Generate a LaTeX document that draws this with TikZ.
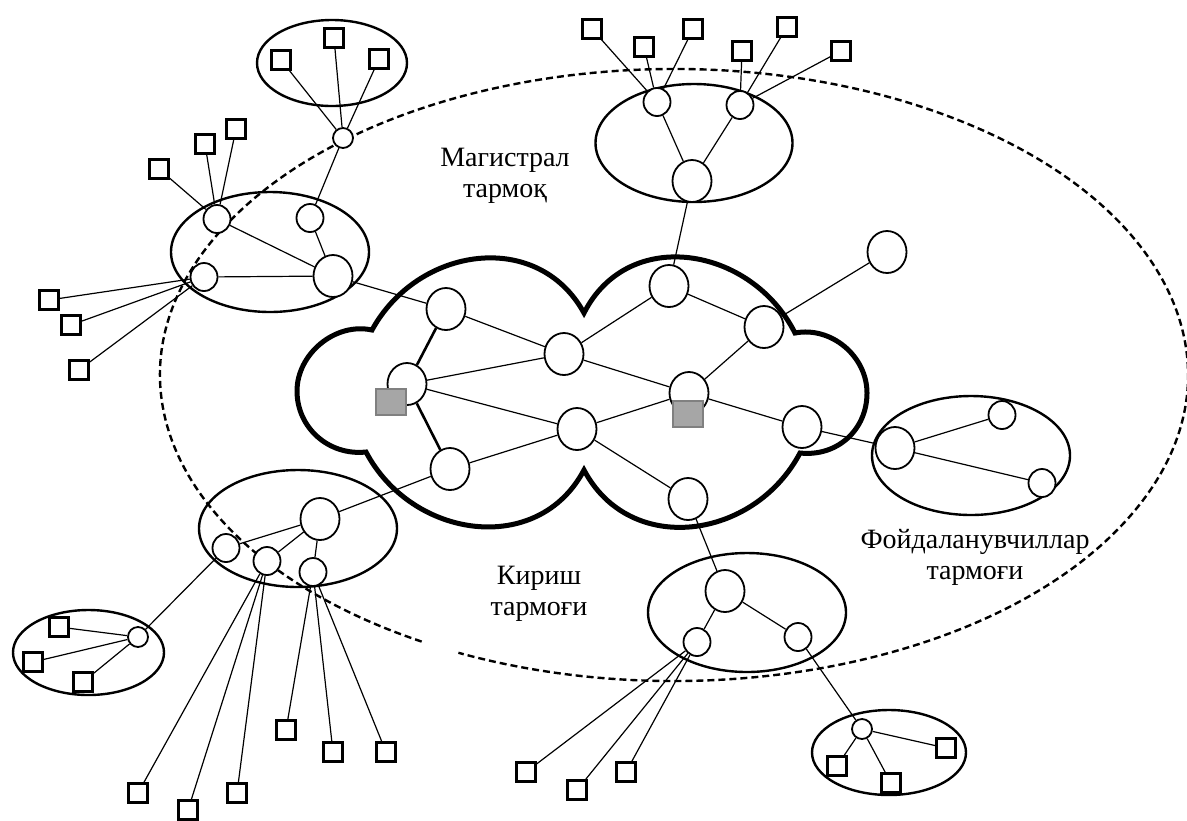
\documentclass[tikz,border=0pt]{standalone}
\usepackage{fontspec}
\setmainfont{Liberation Serif}
\usetikzlibrary{shapes.geometric}
\definecolor{gateGray}{RGB}{166,166,166}
\definecolor{gateEdge}{RGB}{128,128,128}

\begin{document}
\begin{tikzpicture}[
    x=0.5pt, y=-0.5pt,
    hub/.style={ellipse, draw, fill=white, line width=0.9pt, inner sep=0pt, minimum width=19.5pt, minimum height=21pt},
    host/.style={ellipse, draw, fill=white, line width=0.9pt, inner sep=0pt, minimum width=13.5pt, minimum height=14pt},
    tiny/.style={circle, draw, fill=white, line width=0.9pt, inner sep=0pt, minimum size=10pt},
    term/.style={rectangle, draw, fill=white, line width=1.3pt, inner sep=0pt, minimum size=9.5pt},
    gate/.style={rectangle, draw=gateEdge, fill=gateGray, line width=0.8pt, inner sep=0pt, minimum width=15pt, minimum height=13pt},
    link/.style={line width=0.6pt},
    trunk/.style={line width=1.3pt},
    zone/.style={line width=1.2pt},
    region/.style={line width=1.2pt, dash pattern=on 3.5pt off 2pt},
    cloudline/.style={line width=2.5pt},
    netname/.style={font=\fontsize{14}{15.5}\selectfont, align=center}
]
\useasboundingbox (0,0) rectangle (1187,820);

% Outer network border (dashed, open at the bottom left)
\draw[region] (674,375) ++(119.4:514 and 306) arc[start angle=119.4, end angle=474.8, x radius=514, y radius=306];

% Group outlines
\draw[zone] (332,63) ellipse [x radius=75, y radius=43];
\draw[zone] (694,143) ellipse [x radius=98.5, y radius=59];
\draw[zone] (270,252) ellipse [x radius=99, y radius=60];
\draw[zone] (298,528.5) ellipse [x radius=99, y radius=58.5];
\draw[zone] (88.5,652.5) ellipse [x radius=75.5, y radius=42.5];
\draw[zone] (971,455.5) ellipse [x radius=99, y radius=59.5];
\draw[zone] (747,612.5) ellipse [x radius=99, y radius=59.5];
\draw[zone] (889,752.5) ellipse [x radius=77, y radius=42.5];

% Backbone cloud
\draw[cloudline] (372,330) .. controls (418,246) and (538,229) .. (584,313)
    .. controls (628,226) and (751,246) .. (795,333)
    .. controls (831,326) and (867,356) .. (867,393)
    .. controls (867,430) and (837,457) .. (800,453)
    .. controls (754,540) and (630,557) .. (584,470)
    .. controls (538,557) and (412,539) .. (366,452)
    .. controls (329,456) and (297,428) .. (297,391)
    .. controls (297,354) and (335,322) .. cycle;

% Backbone nodes
\node[hub] (m1) at (446,309) {};
\node[hub] (m2) at (407,384) {};
\node[hub] (m3) at (450,469) {};
\node[hub] (m4) at (564,354) {};
\node[hub] (m5) at (577,429) {};
\node[hub] (m6) at (669,286) {};
\node[hub] (m7) at (689,393) {};
\node[hub] (m8) at (764,327) {};
\node[hub] (m9) at (802,427) {};
\node[hub] (m10) at (688,499) {};
\node[hub] (mext) at (887,252) {};
\node[gate] (gw1) at (391,402) {};
\node[gate] (gw2) at (688,414) {};

% Top group
\node[host] (ta) at (657,102) {};
\node[host] (tb) at (740,105) {};
\node[hub] (tc) at (692,181) {};
\node[term] (t1) at (592,29) {};
\node[term] (t2) at (644,47) {};
\node[term] (t3) at (693,29) {};
\node[term] (t4) at (742,51) {};
\node[term] (t5) at (787,27) {};
\node[term] (t6) at (841,51) {};

% Top left terminals
\node[tiny] (ts) at (343,138) {};
\node[term] (ts1) at (281,60) {};
\node[term] (ts2) at (334,38) {};
\node[term] (ts3) at (379,59) {};

% Left group
\node[host] (la) at (217,219) {};
\node[host] (lb) at (310,218) {};
\node[hub] (lc) at (333,276) {};
\node[host] (ld) at (204,277) {};
\node[term] (la1) at (159,169) {};
\node[term] (la2) at (205,144) {};
\node[term] (la3) at (236,129) {};
\node[term] (ld1) at (49,300) {};
\node[term] (ld2) at (71,325) {};
\node[term] (ld3) at (79,370) {};

% Lower left group
\node[hub] (ka) at (320,519) {};
\node[host] (kb) at (226,548) {};
\node[host] (kc) at (267,561) {};
\node[host] (kd) at (313,572) {};
\node[tiny] (ks) at (138,637) {};
\node[term] (ks1) at (59,627) {};
\node[term] (ks2) at (33,662) {};
\node[term] (ks3) at (83,682) {};
\node[term] (kc1) at (138,793) {};
\node[term] (kc2) at (188,810) {};
\node[term] (kc3) at (237,793) {};
\node[term] (kd1) at (286,730) {};
\node[term] (kd2) at (333,752) {};
\node[term] (kd3) at (386,752) {};

% Right group
\node[hub] (fa) at (895,448) {};
\node[host] (fb) at (1002,415) {};
\node[host] (fc) at (1042,483) {};

% Bottom group
\node[hub] (ua) at (725,591) {};
\node[host] (ub) at (697,642) {};
\node[host] (uc) at (798,637) {};
\node[term] (ub1) at (526,772) {};
\node[term] (ub2) at (577,790) {};
\node[term] (ub3) at (626,772) {};
\node[tiny] (us) at (862,729) {};
\node[term] (us1) at (837,766) {};
\node[term] (us2) at (891,783) {};
\node[term] (us3) at (946,748) {};

% Labels
\node[netname] (lblcore) at (505,176) {Магистрал\\тармоқ};
\node[netname] (lblaccess) at (539,594) {Кириш\\тармоғи};
\node[netname] (lblusers) at (975,557) {Фойдаланувчиллар\\тармоғи};

% Backbone links
\draw[trunk] (m1) -- (m2);
\draw[trunk] (m2) -- (m3);
\draw[link] (m1) -- (m4);
\draw[link] (m2) -- (m4);
\draw[link] (m2) -- (m5);
\draw[link] (m3) -- (m5);
\draw[link] (m4) -- (m6);
\draw[link] (m4) -- (m7);
\draw[link] (m5) -- (m7);
\draw[link] (m5) -- (m10);
\draw[link] (m6) -- (m8);
\draw[link] (m7) -- (m8);
\draw[link] (m7) -- (m9);
\draw[link] (m8) -- (mext);

% Backbone to groups
\draw[link] (m1) -- (lc);
\draw[link] (m3) -- (ka);
\draw[link] (m6) -- (tc);
\draw[link] (m9) -- (fa);
\draw[link] (m10) -- (ua);

% Top group links
\draw[link] (tc) -- (ta);
\draw[link] (tc) -- (tb);
\draw[link] (ta) -- (t1);
\draw[link] (ta) -- (t2);
\draw[link] (ta) -- (t3);
\draw[link] (tb) -- (t4);
\draw[link] (tb) -- (t5);
\draw[link] (tb) -- (t6);

% Top left links
\draw[link] (lb) -- (ts);
\draw[link] (ts) -- (ts1);
\draw[link] (ts) -- (ts2);
\draw[link] (ts) -- (ts3);

% Left group links
\draw[link] (lc) -- (la);
\draw[link] (lc) -- (lb);
\draw[link] (lc) -- (ld);
\draw[link] (la) -- (la1);
\draw[link] (la) -- (la2);
\draw[link] (la) -- (la3);
\draw[link] (ld) -- (ld1);
\draw[link] (ld) -- (ld2);
\draw[link] (ld) -- (ld3);

% Lower left links
\draw[link] (ka) -- (kb);
\draw[link] (ka) -- (kc);
\draw[link] (ka) -- (kd);
\draw[link] (kb) -- (ks);
\draw[link] (ks) -- (ks1);
\draw[link] (ks) -- (ks2);
\draw[link] (ks) -- (ks3);
\draw[link] (kc) -- (kc1);
\draw[link] (kc) -- (kc2);
\draw[link] (kc) -- (kc3);
\draw[link] (kd) -- (kd1);
\draw[link] (kd) -- (kd2);
\draw[link] (kd) -- (kd3);

% Right group links
\draw[link] (fa) -- (fb);
\draw[link] (fa) -- (fc);

% Bottom group links
\draw[link] (ua) -- (ub);
\draw[link] (ua) -- (uc);
\draw[link] (ub) -- (ub1);
\draw[link] (ub) -- (ub2);
\draw[link] (ub) -- (ub3);
\draw[link] (uc) -- (us);
\draw[link] (us) -- (us1);
\draw[link] (us) -- (us2);
\draw[link] (us) -- (us3);

\end{tikzpicture}
\end{document}
